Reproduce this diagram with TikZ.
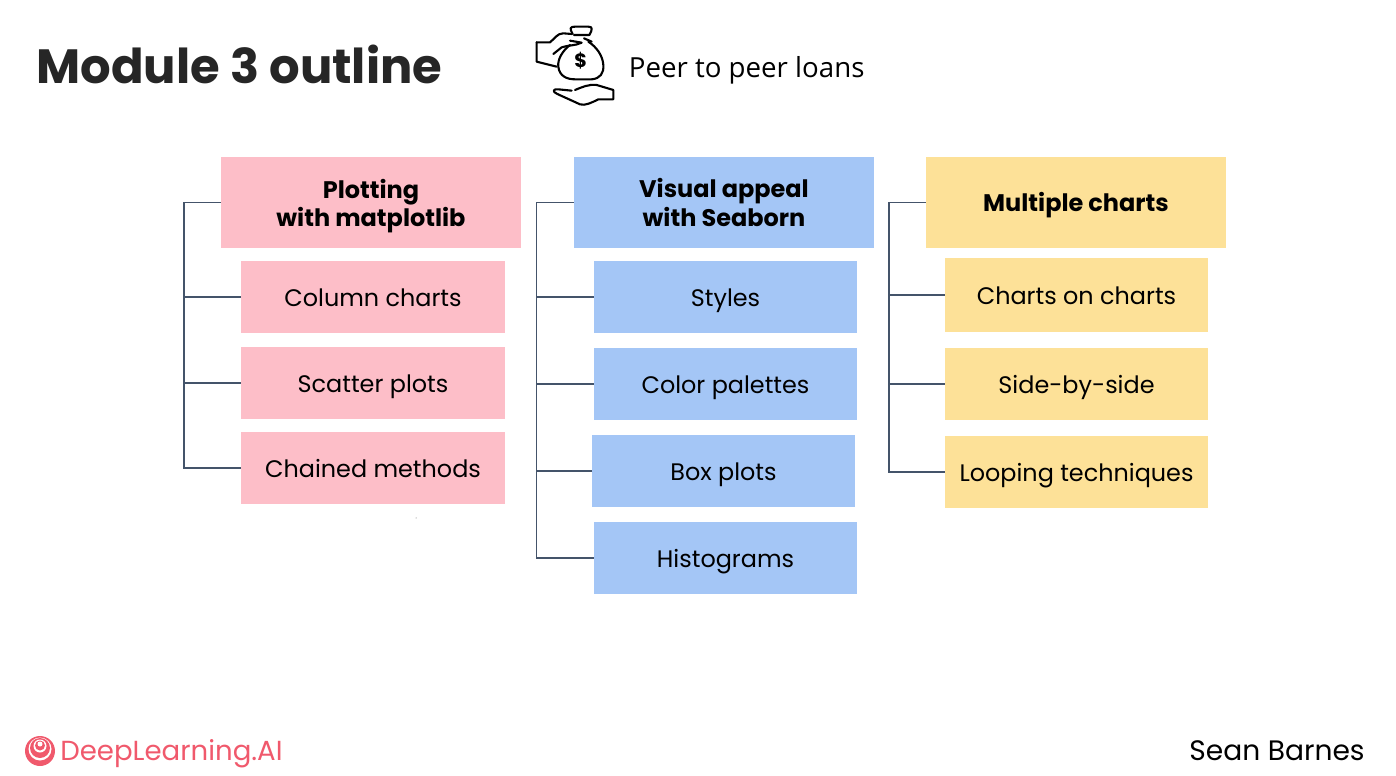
\documentclass[tikz,border=0pt]{standalone}
\usepackage{fontspec}
\setmainfont{Poppins}
\newfontfamily\peerfont{Open Sans}
\usetikzlibrary{positioning}
\definecolor{pinkfill}{HTML}{FDBEC8}
\definecolor{bluefill}{HTML}{A4C6F6}
\definecolor{yellowfill}{HTML}{FDE198}
\definecolor{linkcolor}{HTML}{44546A}
\definecolor{logored}{HTML}{F0596C}
\definecolor{titlecolor}{HTML}{262626}
\tikzset{
  headbox/.style={inner sep=0pt, align=center, minimum width=6cm, minimum height=1.82cm,
    font=\fontsize{13.65}{16}\selectfont\bfseries},
  itembox/.style={inner sep=0pt, align=center, minimum width=5.28cm, minimum height=1.44cm,
    text height=14pt, text depth=3pt, font=\fontsize{13.6}{16}\selectfont},
  link/.style={draw=linkcolor, line width=0.9pt},
  iconline/.style={draw=black, line width=1.2pt, line cap=round, line join=round}
}
\begin{document}
\begin{tikzpicture}[x=0.02cm,y=-0.02cm]
\useasboundingbox (0,0) rectangle (1396,776);
% heading
\node[anchor=west, inner sep=0pt, text=titlecolor, font=\fontsize{27.36}{30}\selectfont\bfseries] (title) at (36,64.5) {Module 3 outline};
\node[anchor=west, inner sep=0pt, font=\fontsize{15.75}{18}\selectfont\peerfont] (peer) at (628.5,70) {Peer to peer loans};
% money bag icon
\begin{scope}[shift={(520,10)},scale=1/3]
\draw[iconline] (158,72) .. controls (148,55) and (150,50) .. (165,50) -- (205,50) .. controls (218,50) and (218,58) .. (208,75);
\draw[iconline] (162,75) -- (208,75) (192,85) -- (215,95);
\draw[iconline] (150,105) .. controls (128,122) and (112,148) .. (115,170) .. controls (118,198) and (140,208) .. (165,208) -- (215,208) .. controls (240,206) and (252,190) .. (250,165) .. controls (248,135) and (228,110) .. (205,95);
\draw[iconline] (50,97) -- (90,97) .. controls (105,85) and (112,70) .. (130,70) -- (155,72) (150,92) -- (185,98) .. controls (165,108) and (145,105) .. (125,112) (125,112) -- (100,132);
\draw[iconline] (50,97) -- (50,155) -- (110,170);
\draw[iconline] (280,240) -- (280,268) -- (235,268) .. controls (215,278) and (195,288) .. (180,283) -- (112,252) .. controls (95,245) and (100,236) .. (115,238) -- (155,242) (165,240) .. controls (185,232) and (205,222) .. (230,225) -- (280,240);
\node[inner sep=0pt, font=\fontsize{11}{12}\selectfont\bfseries] (dollar) at (182,151) {\$};
\end{scope}
% pink column
\node[headbox, fill=pinkfill] (plotting) at (371,202.5) {Plotting\\\smash{with matplotlib}};
\node[itembox, fill=pinkfill] (column) at (373,297) {Column charts};
\node[itembox, fill=pinkfill] (scatter) at (373,383) {Scatter plots};
\node[itembox, fill=pinkfill] (chained) at (373,468) {Chained methods};
\coordinate (pinkspine) at (184,468);
\draw[link] (plotting.west) -| (pinkspine) -- (chained.west);
\foreach \n in {column,scatter}
\draw[link] (pinkspine |- \n.west) -- (\n.west);
% blue column
\node[headbox, fill=bluefill] (visual) at (724,202.5) {Visual appeal\\with Seaborn};
\node[itembox, fill=bluefill, minimum width=5.26cm] (styles) at (725.5,297) {Styles};
\node[itembox, fill=bluefill, minimum width=5.26cm] (palettes) at (725.5,384) {Color palettes};
\node[itembox, fill=bluefill, minimum width=5.26cm] (boxplots) at (723.5,471) {Box plots};
\node[itembox, fill=bluefill, minimum width=5.26cm] (histograms) at (725.5,558) {Histograms};
\coordinate (bluespine) at (536.5,558);
\draw[link] (visual.west) -| (bluespine) -- (histograms.west);
\foreach \n in {styles,palettes,boxplots}
\draw[link] (bluespine |- \n.west) -- (\n.west);
% yellow column
\node[headbox, fill=yellowfill, text height=13pt, text depth=3pt] (multiple) at (1076,202.5) {Multiple charts};
\node[itembox, fill=yellowfill, minimum width=5.26cm, minimum height=1.48cm] (oncharts) at (1076.5,295) {Charts on charts};
\node[itembox, fill=yellowfill, minimum width=5.26cm] (sidebyside) at (1076.5,384) {Side-by-side};
\node[itembox, fill=yellowfill, minimum width=5.26cm] (looping) at (1076.5,472) {Looping techniques};
\coordinate (yellowspine) at (889,472);
\draw[link] (multiple.west) -| (yellowspine) -- (looping.west);
\foreach \n in {oncharts,sidebyside}
\draw[link] (yellowspine |- \n.west) -- (\n.west);
\fill[black!60] (416,518) circle (0.5);
% footer
\begin{scope}[shift={(40,751)}]
\fill[logored] (0,0) circle (15);
\fill[white] (0,-2) circle (11.5);
\fill[logored] (0,-3) circle (10);
\fill[white] (0,-5) circle (6.5);
\fill[logored] (0,-5.5) circle (5);
\fill[white] (0,-7) circle (2.5);
\end{scope}
\node[anchor=west, inner sep=0pt, text=logored, font=\fontsize{15.7}{18}\selectfont] (brand) at (60,753.5) {DeepLearning.AI};
\node[anchor=east, inner sep=0pt, font=\fontsize{16}{18}\selectfont] (author) at (1365,751) {Sean Barnes};
\end{tikzpicture}
\end{document}
